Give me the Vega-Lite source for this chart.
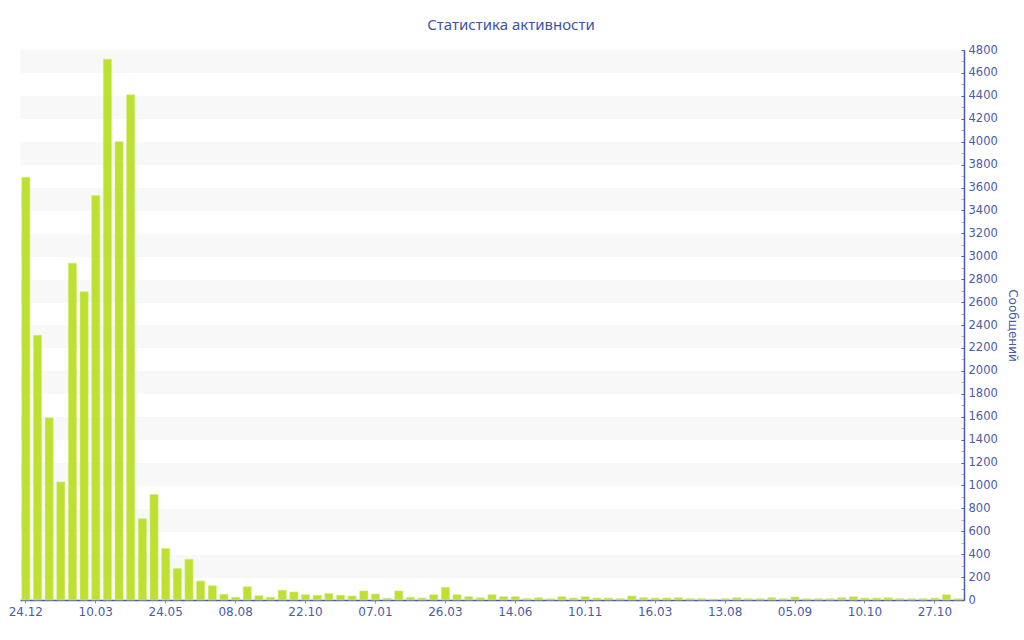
{
  "$schema": "https://vega.github.io/schema/vega-lite/v6.json",
  "width": 944,
  "height": 550,
  "autosize": {"type": "none"},
  "padding": {"left": 20, "top": 50, "right": 60, "bottom": 40},
  "background": "#ffffff",
  "title": {
    "text": "Статистика активности",
    "anchor": "middle",
    "dx": 19,
    "offset": 11,
    "font": "Noto Sans",
    "fontSize": 15,
    "fontWeight": "normal",
    "color": "#3e54a3"
  },
  "data": {
    "values": [
      {"i": 0, "v": 3690}, {"i": 1, "v": 2310}, {"i": 2, "v": 1590}, {"i": 3, "v": 1030},
      {"i": 4, "v": 2940}, {"i": 5, "v": 2690}, {"i": 6, "v": 3530}, {"i": 7, "v": 4720},
      {"i": 8, "v": 4000}, {"i": 9, "v": 4410}, {"i": 10, "v": 710}, {"i": 11, "v": 920},
      {"i": 12, "v": 450}, {"i": 13, "v": 275}, {"i": 14, "v": 355}, {"i": 15, "v": 166},
      {"i": 16, "v": 125}, {"i": 17, "v": 50}, {"i": 18, "v": 24}, {"i": 19, "v": 116},
      {"i": 20, "v": 38}, {"i": 21, "v": 24}, {"i": 22, "v": 85}, {"i": 23, "v": 70},
      {"i": 24, "v": 46}, {"i": 25, "v": 41}, {"i": 26, "v": 56}, {"i": 27, "v": 42},
      {"i": 28, "v": 35}, {"i": 29, "v": 79}, {"i": 30, "v": 52}, {"i": 31, "v": 15},
      {"i": 32, "v": 79}, {"i": 33, "v": 23}, {"i": 34, "v": 17}, {"i": 35, "v": 46},
      {"i": 36, "v": 110}, {"i": 37, "v": 46}, {"i": 38, "v": 29}, {"i": 39, "v": 20},
      {"i": 40, "v": 46}, {"i": 41, "v": 29}, {"i": 42, "v": 29}, {"i": 43, "v": 12},
      {"i": 44, "v": 20}, {"i": 45, "v": 12}, {"i": 46, "v": 29}, {"i": 47, "v": 17},
      {"i": 48, "v": 29}, {"i": 49, "v": 17}, {"i": 50, "v": 17}, {"i": 51, "v": 12},
      {"i": 52, "v": 35}, {"i": 53, "v": 20}, {"i": 54, "v": 17}, {"i": 55, "v": 18},
      {"i": 56, "v": 20}, {"i": 57, "v": 12}, {"i": 58, "v": 12}, {"i": 59, "v": 9},
      {"i": 60, "v": 12}, {"i": 61, "v": 20}, {"i": 62, "v": 12}, {"i": 63, "v": 12},
      {"i": 64, "v": 20}, {"i": 65, "v": 12}, {"i": 66, "v": 26}, {"i": 67, "v": 12},
      {"i": 68, "v": 12}, {"i": 69, "v": 12}, {"i": 70, "v": 20}, {"i": 71, "v": 29},
      {"i": 72, "v": 17}, {"i": 73, "v": 17}, {"i": 74, "v": 20}, {"i": 75, "v": 12},
      {"i": 76, "v": 12}, {"i": 77, "v": 12}, {"i": 78, "v": 17}, {"i": 79, "v": 46},
      {"i": 80, "v": 12}
    ]
  },
  "mark": {"type": "bar", "color": "#bde031", "stroke": "#d3ee78", "strokeWidth": 0.6},
  "encoding": {
    "x": {
      "field": "i",
      "type": "ordinal",
      "scale": {"paddingInner": 0.3, "paddingOuter": 0.15},
      "axis": {
        "title": null,
        "values": [0, 6, 12, 18, 24, 30, 36, 42, 48, 54, 60, 66, 72, 78],
        "labelExpr": "['24.12','10.03','24.05','08.08','22.10','07.01','26.03','14.06','10.11','16.03','13.08','05.09','10.10','27.10'][datum.value / 6]",
        "labelAngle": 0,
        "labelFont": "DejaVu Sans",
        "labelFontSize": 12,
        "labelColor": "#4a5ca6",
        "labelPadding": 3,
        "tickSize": 3,
        "tickColor": "#999999",
        "domainColor": "#4a5ca6",
        "domainWidth": 1.5,
        "grid": false
      }
    },
    "y": {
      "field": "v",
      "type": "quantitative",
      "scale": {"domain": [0, 4800], "nice": false},
      "axis": {
        "orient": "right",
        "title": "Сообщений",
        "titleFont": "DejaVu Sans",
        "titleFontSize": 12,
        "titleFontWeight": "normal",
        "titleColor": "#4a5ca6",
        "titlePadding": 8,
        "values": [0,100,200,300,400,500,600,700,800,900,1000,1100,1200,1300,1400,1500,1600,1700,1800,1900,2000,2100,2200,2300,2400,2500,2600,2700,2800,2900,3000,3100,3200,3300,3400,3500,3600,3700,3800,3900,4000,4100,4200,4300,4400,4500,4600,4700,4800],
        "labelExpr": "datum.value % 200 == 0 ? datum.label : ''",
        "format": "d",
        "labelOverlap": false,
        "labelBound": false,
        "labelFlush": false,
        "labelFont": "DejaVu Sans",
        "labelFontSize": 11.5,
        "labelColor": "#4a5ca6",
        "labelPadding": 7,
        "tickSize": -3,
        "tickColor": {"condition": {"test": "datum.value % 200 == 0", "value": "#4a5ca6"}, "value": "#b4b4b4"},
        "domainColor": "#4a5ca6",
        "domainWidth": 1.5,
        "grid": true,
        "gridWidth": 22.92,
        "gridColor": {"condition": {"test": "datum.value % 400 == 300", "value": "#f8f8f8"}, "value": "rgba(255,255,255,0)"}
      }
    }
  },
  "config": {"view": {"stroke": null}}
}
